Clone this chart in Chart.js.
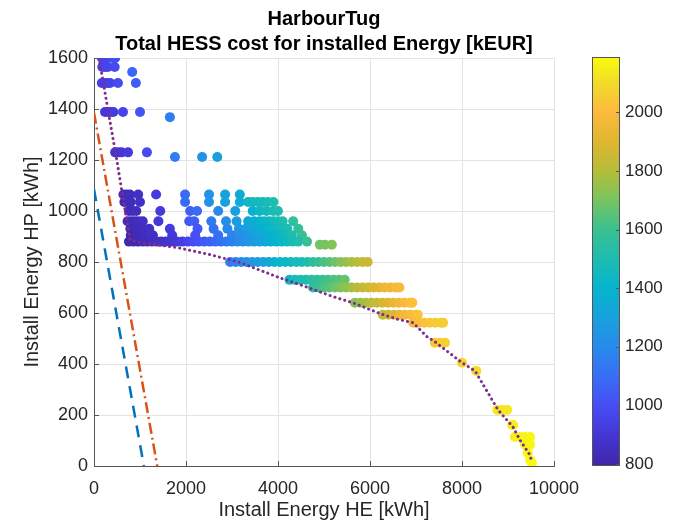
<!DOCTYPE html>
<html>
<head>
<meta charset="utf-8">
<script src="https://cdn.jsdelivr.net/npm/chart.js@4.4.0/dist/chart.umd.min.js"></script>
<style>
  body { margin: 0; background: #fff; }
  #wrap { width: 675px; height: 524px; }
</style>
</head>
<body>
<div id="wrap"><canvas id="cost-chart" width="675" height="524"></canvas></div>
<script>
// installed HP energy of each row of points [kWh]
const hpRows = [1600, 1565, 1545, 1502, 1388, 1368, 1230, 1212,
    1065, 1035, 1000, 960, 930, 905, 880, 868,
    800, 730, 700, 640, 593, 562, 483, 405, 373, 220, 161, 114, 83, 51, 24, 12];

// installed HE energy of the points in each row [kWh]
const heRows = [
    [170, 230, 290, 400, 460],
    [180, 240, 300, 450],
    [830],
    [170, 230, 290, 350, 520, 910],
    [240, 300, 360, 420, 630, 1000],
    [1650],
    [460, 530, 600, 740, 1150],
    [1760, 2350, 2680],
    [640, 710, 780, 960, 1350, 1980, 2500, 2850, 3170],
    [660, 730, 800, 1000, 1980, 2500, 2850, 3170, 3350, 3450, 3560, 3670, 3780, 3900],
    [760, 840, 920, 1440, 2090, 2240, 2700, 3070, 3450, 3600, 3750, 3900, 4000],
    [730, 810, 890, 970, 1060, 1400, 2070, 2180, 2550, 2870, 3100, 3350, 3480, 3600, 3700, 3800, 3900, 4000, 4100, 4330],
    [790, 870, 950, 1040, 1200, 1650, 2250, 2600, 2900, 3150, 3300, 3450, 3600, 3700, 3800, 3900, 4000, 4100, 4200, 4440],
    [800, 880, 1070, 1280, 1700, 2200, 2700, 3000, 3200, 3400, 3550, 3700, 3850, 4000, 4150, 4300, 4520],
    [760, 860, 960, 1060, 1160, 1260, 1360, 1460, 1560, 1680, 1800, 1920, 2040, 2160, 2280, 2400, 2520,
        2640, 2760, 2880, 3000, 3120, 3240, 3360, 3480, 3600, 3720, 3840, 3960, 4080, 4200, 4320, 4440, 4630],
    [4910, 5020, 5170],
    [2960, 3080, 3200, 3320, 3440, 3560, 3680, 3800, 3920, 4040, 4160, 4280, 4400, 4520, 4640, 4760,
        4880, 5000, 5120, 5240, 5360, 5480, 5600, 5720, 5840, 5950],
    [4250, 4370, 4490, 4610, 4730, 4850, 4970, 5090, 5210, 5330, 5450],
    [4760, 4880, 5000, 5120, 5240, 5360, 5480, 5600, 5720, 5840, 5960, 6080, 6200, 6320, 6440, 6560, 6640],
    [5670, 5790, 5910, 6030, 6150, 6270, 6390, 6510, 6630, 6750, 6870, 6920],
    [6280, 6400, 6520, 6640, 6760, 6880, 7000, 7040],
    [6940, 7060, 7180, 7300, 7420, 7540, 7590],
    [7410, 7520, 7630],
    [8000],
    [8310],
    [8770, 8870, 8980],
    [9090, 9110],
    [9150, 9260, 9370, 9480],
    [9370, 9480],
    [9430],
    [9480],
    [9520]
];

// total HESS cost of the points in each row [kEUR]
const costRows = [
    [955, 960, 965, 985, 995],
    [950, 955, 960, 990],
    [1075],
    [935, 940, 945, 950, 985, 1050],
    [905, 910, 915, 920, 960, 1020],
    [1160],
    [890, 895, 900, 920, 985],
    [1150, 1240, 1290],
    [830, 835, 840, 860, 920, 1090, 1230, 1300, 1350],
    [830, 835, 840, 865, 1090, 1230, 1300, 1350, 1440, 1450, 1460, 1470, 1480, 1500],
    [830, 835, 845, 920, 1060, 1090, 1200, 1290, 1390, 1430, 1460, 1490, 1510],
    [825, 830, 835, 845, 855, 900, 1030, 1050, 1140, 1220, 1280, 1340, 1370, 1400, 1420, 1440, 1460, 1480, 1500, 1560],
    [820, 825, 835, 845, 860, 920, 1030, 1110, 1190, 1250, 1290, 1330, 1370, 1390, 1410, 1430, 1450, 1470, 1490, 1570],
    [815, 820, 840, 860, 910, 1000, 1110, 1180, 1230, 1280, 1320, 1350, 1390, 1420, 1460, 1500, 1590],
    [810, 815, 820, 830, 840, 850, 860, 870, 880, 895, 910, 930, 960, 985, 1010, 1035, 1060,
        1085, 1110, 1135, 1160, 1190, 1220, 1250, 1280, 1310, 1340, 1370, 1400, 1425, 1450, 1480, 1510, 1590],
    [1690, 1700, 1720],
    [1150, 1170, 1195, 1220, 1245, 1275, 1305, 1340, 1375, 1410, 1430, 1450, 1465, 1485, 1515, 1550,
        1585, 1620, 1650, 1680, 1715, 1750, 1775, 1800, 1825, 1850],
    [1450, 1470, 1490, 1515, 1540, 1565, 1590, 1610, 1630, 1650, 1670],
    [1560, 1590, 1620, 1650, 1680, 1710, 1740, 1770, 1800, 1830, 1860, 1890, 1915, 1940, 1960, 1980, 1990],
    [1720, 1750, 1780, 1810, 1840, 1870, 1900, 1930, 1960, 1990, 2010, 2020],
    [1820, 1860, 1900, 1940, 1970, 2000, 2020, 2030],
    [1990, 2005, 2020, 2035, 2045, 2055, 2060],
    [2050, 2060, 2070],
    [2090],
    [2100],
    [2130, 2135, 2140],
    [2150, 2150],
    [2160, 2165, 2170, 2175],
    [2170, 2175],
    [2180],
    [2185],
    [2189]
];

// cheapest configurations (dotted line)
const frontierHe = [110, 300, 500, 610, 700, 783, 1000, 1800, 2520, 3170, 4040, 4480, 5200, 5630,
    6217, 6587, 6935, 7240, 7413, 8000, 8283, 8783, 9109, 9260, 9478, 9522];
const frontierHp = [1600, 1400, 1195, 1073, 977, 888, 876, 857, 829, 798, 738, 711, 664, 640,
    598, 576, 562, 507, 487, 405, 373, 220, 153, 102, 43, 12];

// limit lines
const blueHe = [0, 1085];
const blueHp = [1085, 0];
const orangeHe = [0, 1375];
const orangeHp = [1385, 0];

const xTicks = [0, 2000, 4000, 6000, 8000, 10000];
const yTicks = [0, 200, 400, 600, 800, 1000, 1200, 1400, 1600];
const cbarTicks = [800, 1000, 1200, 1400, 1600, 1800, 2000];
const cbarMin = 793;
const cbarMax = 2189;

const fontFamily = "'Liberation Sans', Arial, Helvetica, sans-serif";
const textColour = "#262626";
const axisColour = "#555555";

const parulaStops = [
    [0.000, 62, 38, 168],
    [0.080, 69, 55, 215],
    [0.150, 70, 78, 245],
    [0.220, 56, 110, 245],
    [0.290, 40, 138, 235],
    [0.360, 25, 160, 222],
    [0.435, 6, 180, 205],
    [0.510, 30, 189, 175],
    [0.580, 60, 192, 142],
    [0.650, 120, 196, 96],
    [0.720, 180, 189, 58],
    [0.790, 222, 182, 48],
    [0.865, 252, 186, 60],
    [0.935, 242, 218, 42],
    [1.000, 249, 251, 14]
];

function parula(t) {
    t = Math.max(0, Math.min(1, t));
    for (let i = 1; i < parulaStops.length; ++i) {
        const b = parulaStops[i];
        if (t <= b[0]) {
            const a = parulaStops[i - 1];
            const f = (t - a[0]) / (b[0] - a[0]);
            const r = Math.round(a[1] + (b[1] - a[1]) * f);
            const g = Math.round(a[2] + (b[2] - a[2]) * f);
            const bl = Math.round(a[3] + (b[3] - a[3]) * f);
            return `rgb(${r}, ${g}, ${bl})`;
        }
    }
    return "rgb(249, 251, 14)";
}

const points = [];
const pointColours = [];
for (let i = 0; i < hpRows.length; ++i) {
    for (let j = 0; j < heRows[i].length; ++j) {
        points.push({ x: heRows[i][j], y: hpRows[i] });
        pointColours.push(parula((costRows[i][j] - cbarMin) / (cbarMax - cbarMin)));
    }
}

function toXY(xs, ys) {
    const out = [];
    for (let i = 0; i < xs.length; ++i) {
        out.push({ x: xs[i], y: ys[i] });
    }
    return out;
}

const titlePlugin = {
    id: "titles",
    afterDraw(chart) {
        const ctx = chart.ctx;
        const area = chart.chartArea;
        const cx = (area.left + area.right) / 2;
        ctx.save();
        ctx.fillStyle = "#000";
        ctx.font = `bold 20px ${fontFamily}`;
        ctx.textAlign = "center";
        ctx.textBaseline = "middle";
        ctx.fillText("HarbourTug", cx, 19);
        ctx.fillText("Total HESS cost for installed Energy [kEUR]", cx, 44);
        ctx.restore();
    }
};

const innerTicksPlugin = {
    id: "innerTicks",
    afterDraw(chart) {
        const ctx = chart.ctx;
        const area = chart.chartArea;
        ctx.save();
        ctx.strokeStyle = axisColour;
        ctx.lineWidth = 1;
        ctx.beginPath();
        for (const v of xTicks) {
            const px = Math.round(chart.scales.x.getPixelForValue(v)) + 0.5;
            ctx.moveTo(px, area.bottom);
            ctx.lineTo(px, area.bottom - 5);
        }
        for (const v of yTicks) {
            const py = Math.round(chart.scales.y.getPixelForValue(v)) + 0.5;
            ctx.moveTo(area.left, py);
            ctx.lineTo(area.left + 5, py);
        }
        ctx.stroke();
        ctx.restore();
    }
};

const colorbarPlugin = {
    id: "colorbar",
    afterDraw(chart) {
        const ctx = chart.ctx;
        const left = 592, right = 620, top = 57, bottom = 466;
        const toPx = v => bottom - (v - cbarMin) / (cbarMax - cbarMin) * (bottom - top);
        ctx.save();
        const grad = ctx.createLinearGradient(0, bottom, 0, top);
        for (const s of parulaStops) {
            grad.addColorStop(s[0], `rgb(${s[1]}, ${s[2]}, ${s[3]})`);
        }
        ctx.fillStyle = grad;
        ctx.fillRect(left, top, right - left, bottom - top);
        ctx.strokeStyle = axisColour;
        ctx.lineWidth = 1;
        ctx.strokeRect(left + 0.5, top + 0.5, right - left - 1, bottom - top - 1);
        ctx.beginPath();
        for (const v of cbarTicks) {
            const py = Math.round(toPx(v)) + 0.5;
            ctx.moveTo(right, py);
            ctx.lineTo(right - 4, py);
        }
        ctx.stroke();
        ctx.fillStyle = textColour;
        ctx.font = `17px ${fontFamily}`;
        ctx.textAlign = "left";
        ctx.textBaseline = "middle";
        for (const v of cbarTicks) {
            ctx.fillText(String(v), 625, toPx(v));
        }
        ctx.restore();
    }
};

const data = {
    datasets: [
        {
            data: toXY(frontierHe, frontierHp),
            showLine: true,
            borderColor: "#7e2f8e",
            borderWidth: 3,
            borderDash: [0.1, 5],
            borderCapStyle: "round",
            pointRadius: 0,
            order: 0
        },
        {
            data: toXY(orangeHe, orangeHp),
            showLine: true,
            borderColor: "#d95319",
            borderWidth: 2.5,
            borderDash: [11, 4, 2, 4],
            pointRadius: 0,
            order: 1
        },
        {
            data: toXY(blueHe, blueHp),
            showLine: true,
            borderColor: "#0072bd",
            borderWidth: 2.5,
            borderDash: [12, 8],
            pointRadius: 0,
            order: 2
        },
        {
            data: points,
            pointBackgroundColor: pointColours,
            pointBorderWidth: 0,
            pointRadius: 5,
            order: 3
        }
    ]
};

const config = {
    type: "scatter",
    data,
    options: {
        responsive: false,
        animation: false,
        layout: { padding: { top: 58, right: 121, left: 0, bottom: 0 } },
        plugins: {
            legend: { display: false },
            tooltip: { enabled: false },
            title: { display: false }
        },
        scales: {
            x: {
                type: "linear",
                min: 0,
                max: 10000,
                afterBuildTicks(scale) { scale.ticks = xTicks.map(v => ({ value: v })); },
                afterFit(scale) { scale.height = 58; },
                ticks: {
                    color: textColour,
                    font: { family: fontFamily, size: 18 },
                    padding: 12,
                    maxRotation: 0,
                    callback: v => String(v)
                },
                grid: { color: "#e3e3e3", drawTicks: false },
                border: { color: axisColour, width: 1 },
                title: {
                    display: true,
                    text: "Install Energy HE [kWh]",
                    color: textColour,
                    font: { family: fontFamily, size: 20 },
                    padding: { top: 0, bottom: 2 }
                }
            },
            y: {
                type: "linear",
                min: 0,
                max: 1600,
                afterBuildTicks(scale) { scale.ticks = yTicks.map(v => ({ value: v })); },
                afterFit(scale) { scale.width = 94; },
                ticks: {
                    color: textColour,
                    font: { family: fontFamily, size: 18 },
                    padding: 6,
                    callback: v => String(v)
                },
                grid: { color: "#e3e3e3", drawTicks: false },
                border: { color: axisColour, width: 1 },
                title: {
                    display: true,
                    text: "Install Energy HP [kWh]",
                    color: textColour,
                    font: { family: fontFamily, size: 20 },
                    padding: { top: 20, bottom: 0 }
                }
            }
        }
    },
    plugins: [titlePlugin, innerTicksPlugin, colorbarPlugin]
};

const ctx = document.getElementById("cost-chart");

if (ctx) {
    new Chart(ctx, config);
}
</script>
</body>
</html>
